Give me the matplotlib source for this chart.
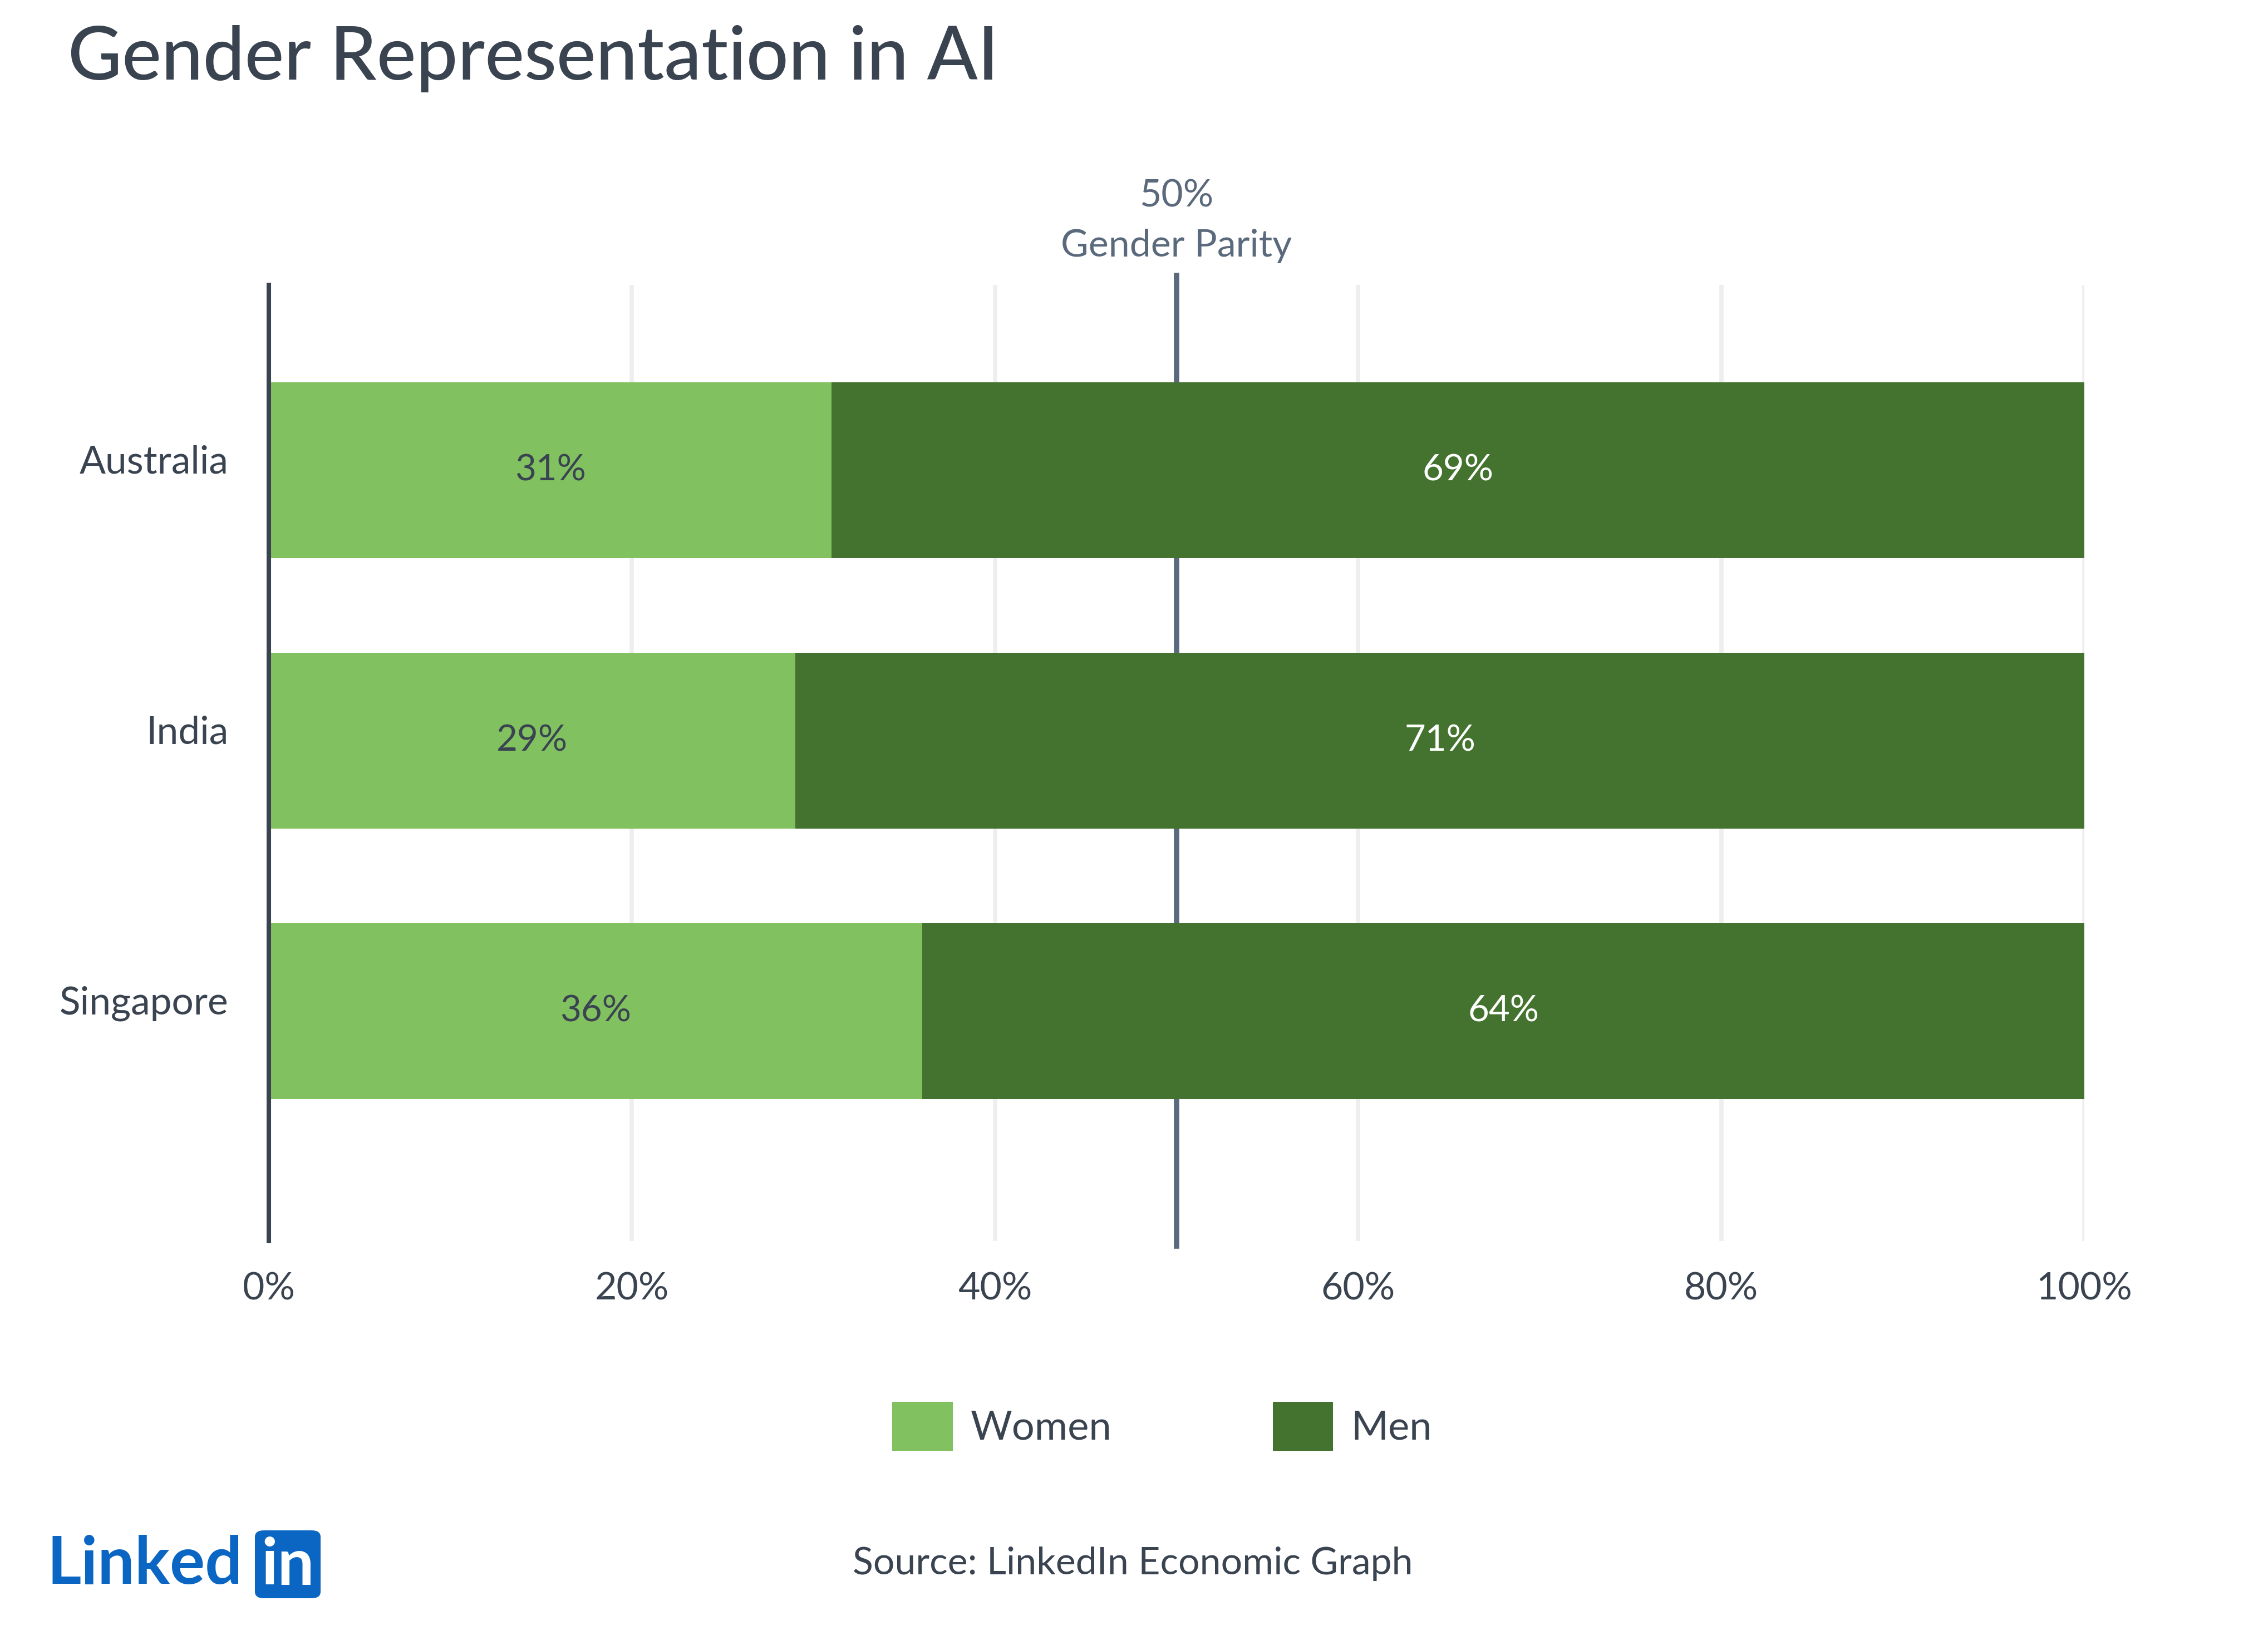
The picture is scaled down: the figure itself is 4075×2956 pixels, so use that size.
import matplotlib.pyplot as plt
import matplotlib.transforms as mtransforms
from matplotlib.patches import FancyBboxPatch, Patch

plt.rcParams['font.family'] = ['Lato', 'DejaVu Sans']

countries = ['Australia', 'India', 'Singapore']
women = [31, 29, 36]
men = [69, 71, 64]
xticks = [0, 20, 40, 60, 80, 100]
xtick_labels = ['0%', '20%', '40%', '60%', '80%', '100%']

c_women = '#82c160'
c_men = '#43732e'
c_text = '#3a4350'
c_parity = '#5a6a7c'
c_grid = '#eeeeee'

W, H = 4075, 2956
fig = plt.figure(figsize=(W / 100, H / 100), dpi=100)
fig.patch.set_facecolor('white')

ax = fig.add_axes([483 / W, 1 - 2230 / H, (3745 - 483) / W, (2230 - 512) / H])
ypos = list(range(len(countries)))

ax.barh(ypos, women, height=0.65, color=c_women, zorder=3)
ax.barh(ypos, men, left=women, height=0.65, color=c_men, zorder=3)

for y, w, m in zip(ypos, women, men):
    ax.text(w / 2, y, f'{w}%', ha='center', va='center', fontsize=47, color=c_text, zorder=4)
    ax.text(w + m / 2, y, f'{m}%', ha='center', va='center', fontsize=47, color='white', zorder=4)

ax.set_xlim(0, 100)
ax.set_ylim(2.85, -0.685)
ax.set_xticks(xticks)
ax.set_xticklabels(xtick_labels)
ax.set_yticks(ypos)
ax.set_yticklabels(countries)
ax.tick_params(axis='x', length=0, pad=40, labelsize=49, labelcolor=c_text)
ax.tick_params(axis='y', length=0, pad=52, labelsize=50, labelcolor=c_text)
for lbl in ax.get_yticklabels():
    lbl.set_transform(lbl.get_transform() + mtransforms.ScaledTranslation(0, 0.2, fig.dpi_scale_trans))

for x in xticks[1:]:
    ax.axvline(x, color=c_grid, lw=5.5, solid_capstyle='round', zorder=1)

for s in ['top', 'right', 'bottom']:
    ax.spines[s].set_visible(False)
ax.spines['left'].set_color(c_text)
ax.spines['left'].set_linewidth(5.8)
ax.spines['left'].set_zorder(5)

# parity line
ax.axvline(50, color=c_parity, lw=7, ymin=-0.005, ymax=1.01, clip_on=False, zorder=2)
tr = mtransforms.blended_transform_factory(ax.transData, fig.transFigure)
ax.text(50, 1 - 353 / H, '50%', transform=tr, ha='center', va='center', fontsize=49, color=c_parity)
ax.text(50, 1 - 442 / H, 'Gender Parity', transform=tr, ha='center', va='center', fontsize=49, color=c_parity)

# title
fig.text(122 / W, 1 - 105 / H, 'Gender Representation in AI', fontsize=96, color=c_text,
         ha='left', va='center', fontweight='medium')

# legend
handles = [Patch(facecolor=c_women, label='Women'), Patch(facecolor=c_men, label='Men')]
fig.legend(handles=handles, loc='center', bbox_to_anchor=(0.5125, 1 - 2563 / H), ncol=2,
           frameon=False, fontsize=52, handlelength=1.5, handleheight=1.5,
           handletextpad=0.45, columnspacing=4, labelcolor=c_text)

# source
fig.text(2035 / W, 1 - 2810 / H, 'Source: LinkedIn Economic Graph', fontsize=49, color=c_text,
         ha='center', va='center')

# logo
blue = '#0a66c2'
fig.text(84 / W, 1 - 2812 / H, 'Linked', fontsize=85, color=blue, fontweight='bold',
         ha='left', va='center')
box = FancyBboxPatch((458 / W, 1 - 2872 / H), 118 / W, 122 / H,
                     boxstyle='round,pad=0,rounding_size=0.004', transform=fig.transFigure,
                     facecolor=blue, edgecolor='none')
fig.patches.append(box)
fig.text(517 / W, 1 - 2814 / H, 'in', fontsize=84, color='white', fontweight='bold',
         ha='center', va='center')

fig.savefig('out.png', dpi=100)
